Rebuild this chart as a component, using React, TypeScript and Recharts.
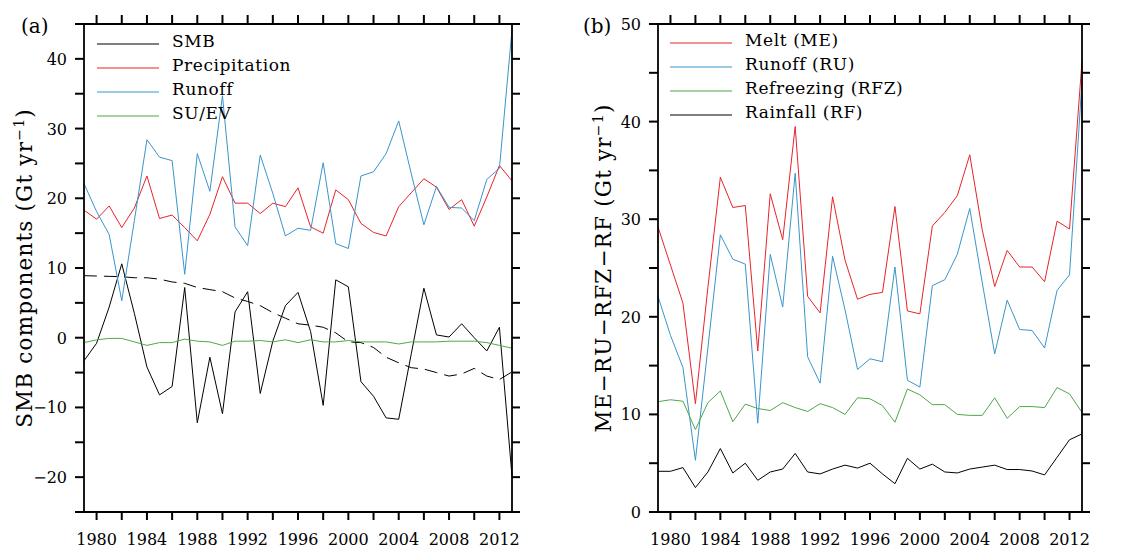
import React from 'react';
import { LineChart, Line, XAxis, YAxis, Legend } from 'recharts';

const years = [
  1979, 1980, 1981, 1982, 1983, 1984, 1985, 1986, 1987, 1988, 1989, 1990,
  1991, 1992, 1993, 1994, 1995, 1996, 1997, 1998, 1999, 2000, 2001, 2002,
  2003, 2004, 2005, 2006, 2007, 2008, 2009, 2010, 2011, 2012, 2013,
];

// panel (a)
const smb = [
  -3.3, -0.8, 4.4, 10.6, 3.5, -4.2, -8.2, -7.0, 7.2, -12.2, -2.8, -10.9,
  3.7, 6.6, -8.0, -0.5, 4.6, 6.5, 0.9, -9.7, 8.3, 7.3, -6.3, -8.4,
  -11.5, -11.7, -2.3, 7.1, 0.4, 0.1, 2.0, 0.0, -1.9, 1.5, -19.9,
];
const smbTrend = [
  8.9, 8.85, 8.8, 8.75, 8.6, 8.6, 8.4, 8.0, 7.8, 7.2, 6.9, 6.6,
  5.7, 5.2, 4.6, 3.6, 2.8, 2.0, 1.8, 1.5, 0.7, -0.6, -0.7, -1.4,
  -2.8, -3.6, -4.3, -4.5, -5.0, -5.5, -5.2, -4.4, -5.5, -6.0, -4.9,
];
const precipitation = [
  18.3, 17.0, 18.9, 15.8, 18.6, 23.2, 17.1, 17.6, 15.8, 13.9, 17.7, 23.1,
  19.3, 19.3, 17.8, 19.3, 18.8, 21.5, 15.9, 15.0, 21.2, 19.8, 16.4, 15.1,
  14.6, 18.8, 20.8, 22.8, 21.6, 18.4, 19.8, 16.0, 20.2, 24.7, 22.5,
];
const runoff = [
  22.1, 18.1, 14.8, 5.3, 16.8, 28.4, 25.9, 25.4, 9.1, 26.4, 21.0, 34.7,
  15.9, 13.2, 26.2, 20.7, 14.6, 15.7, 15.4, 25.1, 13.5, 12.8, 23.2, 23.8,
  26.4, 31.1, 23.5, 16.2, 21.7, 18.7, 18.6, 16.8, 22.7, 24.3, 44.2,
];
const suev = [
  -0.7, -0.3, -0.1, -0.1, -0.6, -1.1, -0.7, -0.7, -0.2, -0.5, -0.6, -1.1,
  -0.5, -0.5, -0.4, -0.6, -0.3, -0.7, -0.3, -0.6, -0.6, -0.4, -0.6, -0.6,
  -0.6, -0.9, -0.6, -0.6, -0.6, -0.5, -0.5, -0.5, -0.7, -1.1, -1.5,
];

// panel (b)
const melt = [
  29.2, 25.3, 21.4, 11.1, 23.0, 34.3, 31.2, 31.4, 16.5, 32.6, 27.9, 39.5,
  22.1, 20.4, 32.3, 25.8, 21.8, 22.3, 22.5, 31.3, 20.6, 20.3, 29.3, 30.7,
  32.4, 36.6, 28.9, 23.1, 26.8, 25.1, 25.1, 23.6, 29.8, 29.0, 46.2,
];
const refreezing = [
  11.3, 11.5, 11.35, 8.45, 11.2, 12.4, 9.25, 11.05, 10.6, 10.4, 11.2, 10.7,
  10.3, 11.1, 10.7, 10.0, 11.7, 11.6, 10.9, 9.2, 12.6, 12.0, 11.0, 11.0,
  10.0, 9.9, 9.9, 11.7, 9.6, 10.8, 10.8, 10.7, 12.75, 12.1, 10.2,
];
const rainfall = [
  4.17, 4.17, 4.55, 2.5, 4.1, 6.5, 4.0, 5.0, 3.25, 4.1, 4.4, 6.0,
  4.1, 3.9, 4.4, 4.8, 4.5, 5.0, 3.9, 2.9, 5.5, 4.4, 4.9, 4.1,
  4.0, 4.4, 4.6, 4.8, 4.35, 4.35, 4.2, 3.8, 5.6, 7.4, 8.0,
];

const legendA = ['SMB', 'Precipitation', 'Runoff', 'SU/EV'];
const legendB = ['Melt (ME)', 'Runoff (RU)', 'Refreezing (RFZ)', 'Rainfall (RF)'];

const xTicks = [
  1980, 1982, 1984, 1986, 1988, 1990, 1992, 1994, 1996, 1998, 2000, 2002,
  2004, 2006, 2008, 2010, 2012,
];
const xLabels = [1980, 1984, 1988, 1992, 1996, 2000, 2004, 2008, 2012];
const leftTicks = [-25, -20, -15, -10, -5, 0, 5, 10, 15, 20, 25, 30, 35, 40, 45];
const rightTicks = [0, 5, 10, 15, 20, 25, 30, 35, 40, 45, 50];

const RED = '#e8232a';
const BLUE = '#3a95cc';
const GREEN = '#4ea84b';
const FONT = '"DejaVu Serif", serif';
const TW = 2;

const dataA = years.map((year, i) => ({
  year,
  smb: smb[i],
  trend: smbTrend[i],
  precipitation: precipitation[i],
  runoff: runoff[i],
  suev: suev[i],
}));
const dataB = years.map((year, i) => ({
  year,
  melt: melt[i],
  runoff: runoff[i],
  refreezing: refreezing[i],
  rainfall: rainfall[i],
}));

const fmtY = (v: number) => String(v).replace('-', '\u2212');

// outward tick marks + labels (x, y = point on the axis line)
const BottomTick = (p: any) => {
  const v = p.payload.value;
  return (
    <g>
      <path d={`M${p.x},${p.y}v8`} stroke="#000" strokeWidth={TW} fill="none" />
      {xLabels.includes(v) && (
        <text x={p.x} y={p.y} dy={33} textAnchor="middle" fontSize={16} fontFamily={FONT} fill="#000">{v}</text>
      )}
    </g>
  );
};
const TopTick = (p: any) => (
  <path d={`M${p.x},${p.y}v-9`} stroke="#000" strokeWidth={TW} fill="none" />
);
const LeftTick = (p: any) => {
  const v = p.payload.value;
  return (
    <g>
      <path d={`M${p.x},${p.y}h-9`} stroke="#000" strokeWidth={TW} fill="none" />
      {v % 10 === 0 && (
        <text x={p.x} y={p.y} dx={-17} dy={6} textAnchor="end" fontSize={16} fontFamily={FONT} fill="#000">{fmtY(v)}</text>
      )}
    </g>
  );
};
const RightTick = (p: any) => (
  <path d={`M${p.x},${p.y}h8`} stroke="#000" strokeWidth={TW} fill="none" />
);

const makeLegend = (order: string[]) => (props: any) => {
  const items = (props.payload || [])
    .filter((p: any) => order.includes(p.value))
    .sort((a: any, b: any) => order.indexOf(a.value) - order.indexOf(b.value));
  return (
    <div style={{ fontFamily: FONT }}>
      {items.map((p: any) => (
        <div key={p.value} style={{ display: 'flex', alignItems: 'center', height: 24 }}>
          <svg width={62} height={2} style={{ display: 'block' }}>
            <line x1={0} y1={1} x2={62} y2={1} stroke={p.color} strokeWidth={1.2} />
          </svg>
          <span style={{ marginLeft: 13, fontSize: 17, letterSpacing: 0.6, position: 'relative', top: -3, whiteSpace: 'nowrap' }}>
            {p.value}
          </span>
        </div>
      ))}
    </div>
  );
};

const title = (text: string, dx: number) => (props: any) => {
  const vb = props.viewBox || { x: 0, y: 0, width: 0, height: 0 };
  const cx = vb.x + dx;
  const cy = vb.y + vb.height / 2;
  return (
    <text transform={`translate(${cx},${cy}) rotate(-90)`} textAnchor="middle" fontSize={21.5} fontFamily={FONT} fill="#000" letterSpacing={1.2}>
      {text} (Gt yr
      <tspan dy={-8} fontSize={14}>{'\u22121'}</tspan>
      <tspan dy={8}>)</tspan>
    </text>
  );
};

const ax = { stroke: '#000', strokeWidth: 1.8, axisLine: true, tickLine: false, tickSize: 0, tickMargin: 0, interval: 0 as const };

export default function App() {
  return (
    <div style={{ position: 'absolute', left: 0, top: 0, width: 1144, height: 548, background: '#fff', fontFamily: FONT }}>
      <div style={{ position: 'absolute', left: 0, top: 0 }}>
        <LineChart width={570} height={548} data={dataA} margin={{ top: 14, right: 48, bottom: 6, left: 24 }}>
          <XAxis {...ax} dataKey="year" type="number" domain={[1979, 2013]} ticks={xTicks} height={30} tick={<BottomTick />} />
          <XAxis {...ax} xAxisId="top" orientation="top" dataKey="year" type="number" domain={[1979, 2013]} ticks={xTicks}
            height={10} tick={<TopTick />} />
          <YAxis {...ax} domain={[-25, 45]} ticks={leftTicks} width={60} tick={<LeftTick />} allowDataOverflow
            label={{ content: title('SMB components', 8) }} />
          <YAxis {...ax} yAxisId="right" orientation="right" dataKey="runoff" domain={[-25, 45]} ticks={leftTicks} width={10}
            allowDataOverflow tick={<RightTick />} />
          <Legend layout="vertical" align="center" verticalAlign="middle" content={makeLegend(legendA)}
            wrapperStyle={{ left: 97, top: 32, width: 'auto', height: 'auto' }} />
          <Line dataKey="trend" name="trend" stroke="#000" strokeWidth={1} strokeDasharray="13 7" dot={false} legendType="none" isAnimationActive={false} />
          <Line dataKey="smb" name={legendA[0]} stroke="#000" strokeWidth={1} dot={false} isAnimationActive={false} />
          <Line dataKey="precipitation" name={legendA[1]} stroke={RED} strokeWidth={1} dot={false} isAnimationActive={false} />
          <Line dataKey="runoff" name={legendA[2]} stroke={BLUE} strokeWidth={1} dot={false} isAnimationActive={false} />
          <Line dataKey="suev" name={legendA[3]} stroke={GREEN} strokeWidth={1} dot={false} isAnimationActive={false} />
        </LineChart>
      </div>
      <div style={{ position: 'absolute', left: 570, top: 0 }}>
        <LineChart width={574} height={548} data={dataB} margin={{ top: 14, right: 52, bottom: 6, left: 28 }}>
          <XAxis {...ax} dataKey="year" type="number" domain={[1979, 2013]} ticks={xTicks} height={30} tick={<BottomTick />} />
          <XAxis {...ax} xAxisId="top" orientation="top" dataKey="year" type="number" domain={[1979, 2013]} ticks={xTicks}
            height={10} tick={<TopTick />} />
          <YAxis {...ax} domain={[0, 50]} ticks={rightTicks} width={60} tick={<LeftTick />} allowDataOverflow
            label={{ content: title('ME\u2212RU\u2212RFZ\u2212RF', 13) }} />
          <YAxis {...ax} yAxisId="right" orientation="right" dataKey="melt" domain={[0, 50]} ticks={rightTicks} width={10}
            allowDataOverflow tick={<RightTick />} />
          <Legend layout="vertical" align="center" verticalAlign="middle" content={makeLegend(legendB)}
            wrapperStyle={{ left: 100, top: 31, width: 'auto', height: 'auto' }} />
          <Line dataKey="melt" name={legendB[0]} stroke={RED} strokeWidth={1} dot={false} isAnimationActive={false} />
          <Line dataKey="runoff" name={legendB[1]} stroke={BLUE} strokeWidth={1} dot={false} isAnimationActive={false} />
          <Line dataKey="refreezing" name={legendB[2]} stroke={GREEN} strokeWidth={1} dot={false} isAnimationActive={false} />
          <Line dataKey="rainfall" name={legendB[3]} stroke="#000" strokeWidth={1} dot={false} isAnimationActive={false} />
        </LineChart>
      </div>
      <svg width={1144} height={548} style={{ position: 'absolute', left: 0, top: 0, pointerEvents: 'none' }}>
        <text x={21} y={33} fontSize={20} fontFamily={FONT} fill="#000">(a)</text>
        <text x={583} y={33} fontSize={20} fontFamily={FONT} fill="#000">(b)</text>
      </svg>
    </div>
  );
}
